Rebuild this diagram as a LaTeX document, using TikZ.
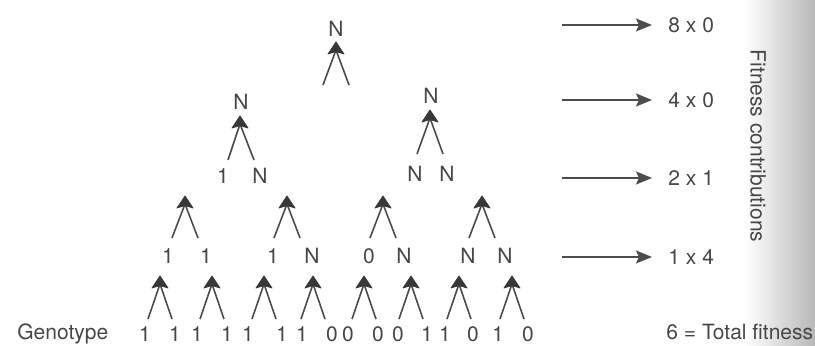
\documentclass[tikz,border=0pt]{standalone}
\usepackage{fontspec}
\setmainfont{TeX Gyre Heros}
\usepackage{tikz}
\usetikzlibrary{arrows.meta}
\tikzset{
    lbl/.style={inner sep=0pt, text=black!72, font=\fontsize{10.5}{12}\selectfont},
    leg/.style={draw=black!70, line width=0.8pt},
    head/.style={fill=black!78, draw=black!78, line width=0.4pt, line join=round},
    contrib/.style={-{Stealth[length=8pt,width=6.5pt,inset=1.5pt]}, draw=black!70, line width=0.8pt}}

\begin{document}
\begin{tikzpicture}[x=0.5pt,y=-0.5pt]
\useasboundingbox (0,0) rectangle (815,346);
% page gutter
\shade[left color=white, right color=black!28] (745,0) rectangle (815,346);

% top
\node[lbl] (n1) at (336,29) {N};
\coordinate (a1) at (336,42);
\coordinate (a1b) at (336,50);
\coordinate (a1l) at (323,85);
\coordinate (a1r) at (349,85);
\draw [leg] (a1l) -- (a1b);
\draw [leg] (a1r) -- (a1b);
\filldraw [head] (a1) -- ++(-8,12) -- ++(8,-2.5) -- ++(8,2.5) -- cycle;

% second row
\node[lbl] (n2) at (241,102) {N};
\coordinate (a2) at (240,116);
\coordinate (a2b) at (240,124);
\coordinate (a2l) at (228,160);
\coordinate (a2r) at (254,160);
\draw [leg] (a2l) -- (a2b);
\draw [leg] (a2r) -- (a2b);
\filldraw [head] (a2) -- ++(-8,12) -- ++(8,-2.5) -- ++(8,2.5) -- cycle;

\node[lbl] (n3) at (431,96) {N};
\coordinate (a3) at (430,110);
\coordinate (a3b) at (430,118);
\coordinate (a3l) at (417,154);
\coordinate (a3r) at (443,154);
\draw [leg] (a3l) -- (a3b);
\draw [leg] (a3r) -- (a3b);
\filldraw [head] (a3) -- ++(-8,12) -- ++(8,-2.5) -- ++(8,2.5) -- cycle;

% third row
\node[lbl] (m1) at (223,176) {1};
\node[lbl] (m2) at (260,176) {N};
\node[lbl] (m3) at (415,174) {N};
\node[lbl] (m4) at (447,174) {N};
\foreach \x [count=\i] in {185,287,383,482} {
  \coordinate (b\i) at (\x,196);
  \coordinate (b\i b) at (\x,204);
  \coordinate (b\i l) at (\x-13,238);
  \coordinate (b\i r) at (\x+13,238);
  \draw [leg] (b\i l) -- (b\i b);
  \draw [leg] (b\i r) -- (b\i b);
  \filldraw [head] (b\i) -- ++(-8,12) -- ++(8,-2.5) -- ++(8,2.5) -- cycle;
}

% fourth row
\foreach \x/\v [count=\i] in {168/1,206/1,273/1,312/N,369/0,404/N,468/N,505/N}
  \node[lbl] (k\i) at (\x,256) {\v};
\foreach \x [count=\i] in {160,212,264,313,364,411,459,512} {
  \coordinate (c\i) at (\x,276);
  \coordinate (c\i b) at (\x,284);
  \coordinate (c\i l) at (\x-12,319);
  \coordinate (c\i r) at (\x+12,319);
  \draw [leg] (c\i l) -- (c\i b);
  \draw [leg] (c\i r) -- (c\i b);
  \filldraw [head] (c\i) -- ++(-8,12) -- ++(8,-2.5) -- ++(8,2.5) -- cycle;
}

% genotype
\node[lbl, anchor=base west] (geno) at (17,340) {Genotype};
\foreach \x/\v [count=\i] in {145/1,175/1,197/1,227/1,248/1,282/1,302/1,332/0,
                              348/0,378/0,398/0,427/1,445/1,473/0,498/1,528/0}
  \node[lbl] (g\i) at (\x,334) {\v};

% fitness contributions
\coordinate (f1) at (562,25);
\coordinate (f2) at (562,100);
\coordinate (f3) at (562,178);
\coordinate (f4) at (562,257);
\node[lbl, anchor=west] (e1) at (668,25) {8 x 0};
\node[lbl, anchor=west] (e2) at (668,100) {4 x 0};
\node[lbl, anchor=west] (e3) at (668,178) {2 x 1};
\node[lbl, anchor=west] (e4) at (668,257) {1 x 4};
\draw [contrib] (f1) -- ([xshift=-8pt]e1.west);
\draw [contrib] (f2) -- ([xshift=-8pt]e2.west);
\draw [contrib] (f3) -- ([xshift=-8pt]e3.west);
\draw [contrib] (f4) -- ([xshift=-8pt]e4.west);
\node[lbl, rotate=-90] (fc) at (758,146) {Fitness contributions};
\node[lbl, anchor=base west] (tot) at (666,340) {6 = Total fitness};
\end{tikzpicture}
\end{document}
